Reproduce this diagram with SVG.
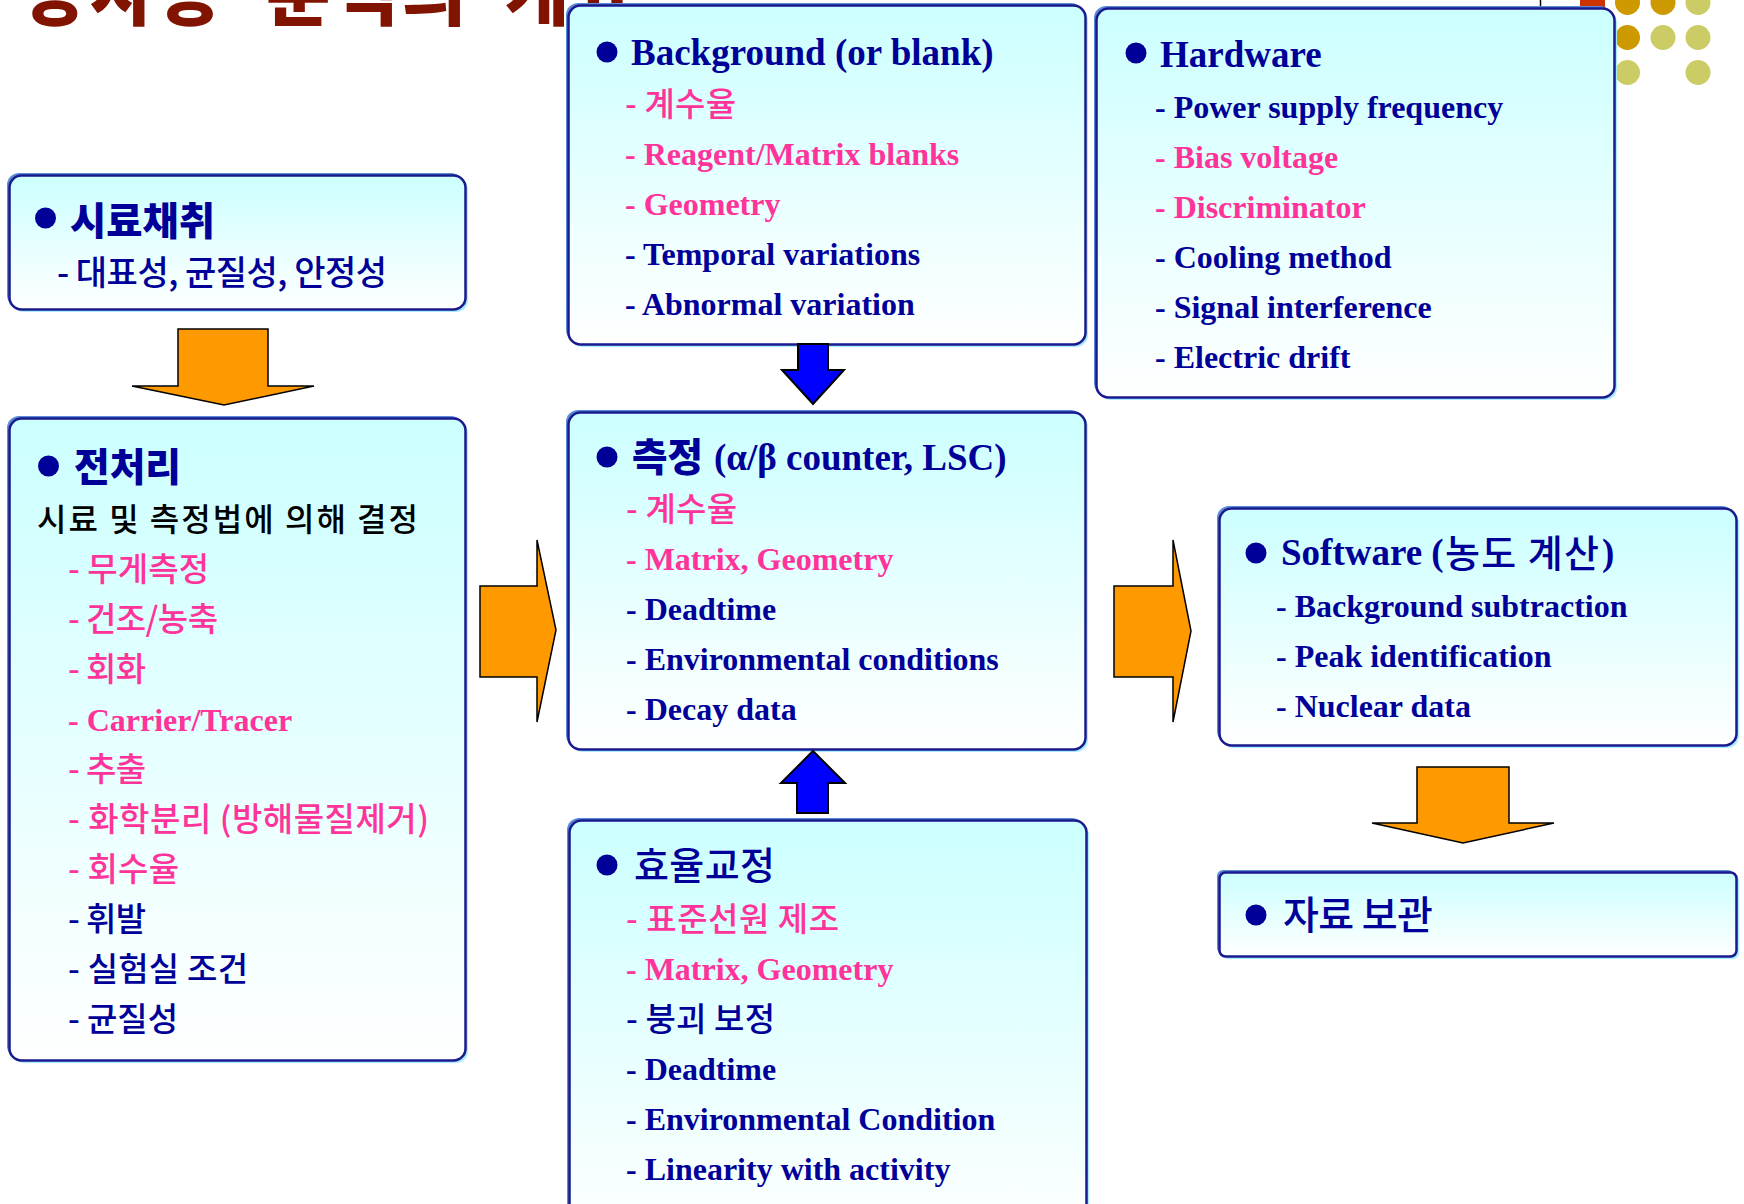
<svg xmlns="http://www.w3.org/2000/svg" width="1744" height="1204" viewBox="0 0 1744 1204">
<defs>
<linearGradient id="g" x1="0" y1="0" x2="0" y2="1"><stop offset="0" stop-color="#CCFFFF"/><stop offset="1" stop-color="#FFFFFF"/></linearGradient>
<style>
.sh{fill:#A8ECFF}
.hl{fill:#5B8CD6}
.bx{fill:url(#g);stroke:#1A1A8F;stroke-width:2.5}
.bul{fill:#000099}
.en{font-family:"Liberation Serif","Times New Roman",serif;font-weight:bold;font-size:32px;fill:#000099}
.t37{font-size:37px}
.ko{font-family:"Noto Sans CJK KR","Noto Sans CJK SC",sans-serif;font-weight:500;font-size:33px;fill:#000099}
.hd{font-family:"Noto Sans CJK KR","Noto Sans CJK SC",sans-serif;font-weight:900;font-size:39px;fill:#000099}
.pk{fill:#FF3399}
.bk{fill:#000000}
.oa{fill:#FF9900;stroke:#000;stroke-width:1.5}
.ba{fill:#0000FF;stroke:#000;stroke-width:2}
.dg{fill:#CC9900}
.dk{fill:#CCCC66}
</style>
</defs>
<rect width="1744" height="1204" fill="#FFFFFF"/>
<g id="decor">
<text x="22 90 158 226 266 334 402 470 505 573" y="20" font-family="'Noto Sans CJK KR',sans-serif" font-weight="900" font-size="70" fill="#801400">방사능 분석의 개요</text>
<rect x="1580" y="-20" width="25" height="30" fill="#CC3300"/>
<line x1="1540.5" y1="0" x2="1540.5" y2="8" stroke="#000" stroke-width="1.5"/>
<circle class="dg" cx="1627.5" cy="2.5" r="12.5"/>
<circle class="dg" cx="1663" cy="2.5" r="12.5"/>
<circle class="dk" cx="1698" cy="2.5" r="12.5"/>
<circle class="dg" cx="1627.5" cy="37.5" r="12.5"/>
<circle class="dk" cx="1663" cy="37.5" r="12.5"/>
<circle class="dk" cx="1698" cy="37.5" r="12.5"/>
<circle class="dk" cx="1627.5" cy="72.5" r="12.5"/>
<circle class="dk" cx="1698" cy="72.5" r="12.5"/>
</g>

<g id="node-sampling">
<rect class="sh" x="12" y="178" width="456" height="134" rx="12"/>
<rect class="hl" x="7" y="173" width="456" height="134" rx="12"/>
<rect class="bx" x="9.5" y="175.5" width="456" height="134" rx="12"/>
<circle class="bul" cx="45.5" cy="218" r="10.5"/>
<text class="hd" x="70" y="235" textLength="145" lengthAdjust="spacingAndGlyphs">시료채취</text>
<text class="ko" x="57" y="285" style="font-size:34px" textLength="330">- 대표성, 균질성, 안정성</text>
</g>

<g id="node-pretreatment">
<rect class="sh" x="12" y="421" width="456" height="642" rx="12"/>
<rect class="hl" x="7" y="416" width="456" height="642" rx="12"/>
<rect class="bx" x="9.5" y="418.5" width="456" height="642" rx="12"/>
<circle class="bul" cx="48.5" cy="466" r="10.5"/>
<text class="hd" x="74" y="481" textLength="107" lengthAdjust="spacingAndGlyphs">전처리</text>
<text class="ko bk" x="37" y="531" style="font-size:32px" textLength="381">시료 및 측정법에 의해 결정</text>
<text class="ko pk" x="68" y="581" textLength="141">- 무게측정</text>
<text class="ko pk" x="68" y="631" textLength="150">- 건조/농축</text>
<text class="ko pk" x="68" y="681" textLength="78">- 회화</text>
<text class="en pk" x="68" y="731">- Carrier/Tracer</text>
<text class="ko pk" x="68" y="781" textLength="78">- 추출</text>
<text class="ko pk" x="68" y="831" textLength="361">- 화학분리 (방해물질제거)</text>
<text class="ko pk" x="68" y="881" textLength="111">- 회수율</text>
<text class="ko" x="68" y="931" textLength="78">- 휘발</text>
<text class="ko" x="68" y="981" textLength="180">- 실험실 조건</text>
<text class="ko" x="68" y="1031" textLength="110">- 균질성</text>
</g>

<g id="node-background">
<rect class="sh" x="571" y="8" width="517" height="339" rx="12"/>
<rect class="hl" x="566" y="3" width="517" height="339" rx="12"/>
<rect class="bx" x="568.5" y="5.5" width="517" height="339" rx="12"/>
<circle class="bul" cx="607" cy="52" r="10.5"/>
<text class="en t37" x="631" y="65">Background (or blank)</text>
<text class="ko pk" x="625" y="116" textLength="111">- 계수율</text>
<text class="en pk" x="625" y="165">- Reagent/Matrix blanks</text>
<text class="en pk" x="625" y="215">- Geometry</text>
<text class="en" x="625" y="265">- Temporal variations</text>
<text class="en" x="625" y="315">- Abnormal variation</text>
</g>

<g id="node-hardware">
<rect class="sh" x="1099" y="11" width="518" height="389" rx="12"/>
<rect class="hl" x="1094" y="6" width="518" height="389" rx="12"/>
<rect class="bx" x="1096.5" y="8.5" width="518" height="389" rx="12"/>
<circle class="bul" cx="1136" cy="53" r="10.5"/>
<text class="en t37" x="1160" y="67">Hardware</text>
<text class="en" x="1155" y="118">- Power supply frequency</text>
<text class="en pk" x="1155" y="168">- Bias voltage</text>
<text class="en pk" x="1155" y="218">- Discriminator</text>
<text class="en" x="1155" y="268">- Cooling method</text>
<text class="en" x="1155" y="318">- Signal interference</text>
<text class="en" x="1155" y="368">- Electric drift</text>
</g>

<g id="node-measurement">
<rect class="sh" x="571" y="415" width="517" height="337" rx="12"/>
<rect class="hl" x="566" y="410" width="517" height="337" rx="12"/>
<rect class="bx" x="568.5" y="412.5" width="517" height="337" rx="12"/>
<circle class="bul" cx="607" cy="457" r="10.5"/>
<text class="hd" x="632" y="471" textLength="71" lengthAdjust="spacingAndGlyphs">측정</text>
<text class="en t37" x="714" y="470">(α/β counter, LSC)</text>
<text class="ko pk" x="626" y="521" textLength="111">- 계수율</text>
<text class="en pk" x="626" y="570">- Matrix, Geometry</text>
<text class="en" x="626" y="620">- Deadtime</text>
<text class="en" x="626" y="670">- Environmental conditions</text>
<text class="en" x="626" y="720">- Decay data</text>
</g>

<g id="node-calibration">
<rect class="sh" x="572" y="823" width="517" height="420" rx="12"/>
<rect class="hl" x="567" y="818" width="517" height="420" rx="12"/>
<rect class="bx" x="569.5" y="820.5" width="517" height="420" rx="12"/>
<circle class="bul" cx="607" cy="865" r="10.5"/>
<text class="ko" x="634" y="879" style="font-size:38px" textLength="141">효율교정</text>
<text class="ko pk" x="626" y="931" textLength="213">- 표준선원 제조</text>
<text class="en pk" x="626" y="980">- Matrix, Geometry</text>
<text class="ko" x="626" y="1031" textLength="149">- 붕괴 보정</text>
<text class="en" x="626" y="1080">- Deadtime</text>
<text class="en" x="626" y="1130">- Environmental Condition</text>
<text class="en" x="626" y="1180">- Linearity with activity</text>
</g>

<g id="node-software">
<rect class="sh" x="1222" y="511" width="517" height="237" rx="12"/>
<rect class="hl" x="1217" y="506" width="517" height="237" rx="12"/>
<rect class="bx" x="1219.5" y="508.5" width="517" height="237" rx="12"/>
<circle class="bul" cx="1256" cy="553" r="10.5"/>
<text class="en t37" x="1281" y="565">Software (</text>
<text class="ko" x="1445" y="567" style="font-size:38px" textLength="154">농도 계산</text>
<text class="en t37" x="1602" y="565">)</text>
<text class="en" x="1276" y="617">- Background subtraction</text>
<text class="en" x="1276" y="667">- Peak identification</text>
<text class="en" x="1276" y="717">- Nuclear data</text>
</g>

<g id="node-storage">
<rect class="sh" x="1222" y="875" width="517" height="84" rx="6"/>
<rect class="hl" x="1217" y="870" width="517" height="84" rx="6"/>
<rect class="bx" x="1219.5" y="872.5" width="517" height="84" rx="6"/>
<circle class="bul" cx="1256" cy="915" r="10.5"/>
<text class="ko" x="1283" y="929" style="font-size:39px" textLength="150">자료 보관</text>
</g>

<g id="connectors">
<polygon class="oa" points="178,329 268,329 268,386 314,386 224,405 132,386 178,386"/>
<polygon class="oa" points="480,586 537,586 537,540 556,630 537,722 537,677 480,677"/>
<polygon class="oa" points="1114,586 1173,586 1173,540 1191,631 1173,722 1173,677 1114,677"/>
<polygon class="oa" points="1417,767 1509,767 1509,823 1554,823 1463,843 1372,823 1417,823"/>
<polygon class="ba" points="798,344 828,344 828,370 844,370 813,404 782,370 798,370"/>
<polygon class="ba" points="813,751 845,783 828,783 828,813 797,813 797,783 781,783"/>
</g>
</svg>
